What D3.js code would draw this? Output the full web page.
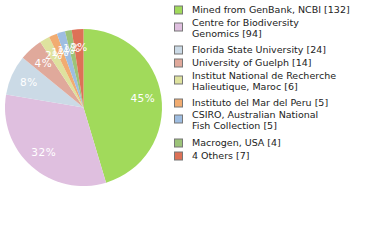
<!DOCTYPE html>
<html>
<head>
<meta charset="utf-8">
<script src="https://cdn.jsdelivr.net/npm/d3@7"></script>
<style>
  body { margin: 0; background: #fff; }
  text { font-family: "DejaVu Sans", sans-serif; }
</style>
</head>
<body>
<div id="chart"></div>
<script>
const labels = [
  ['Mined from GenBank, NCBI [132]'],
  ['Centre for Biodiversity', 'Genomics [94]'],
  ['Florida State University [24]'],
  ['University of Guelph [14]'],
  ['Institut National de Recherche', 'Halieutique, Maroc [6]'],
  ['Instituto del Mar del Peru [5]'],
  ['CSIRO, Australian National', 'Fish Collection [5]'],
  ['Macrogen, USA [4]'],
  ['4 Others [7]'],
];
const counts = [132, 94, 24, 14, 6, 5, 5, 4, 7];
const colors = ['#a1da5b', '#dfbfdf', '#cbdae6', '#e0a99b', '#dee29e', '#f1ac71', '#9ebde1', '#9cc379', '#dd7157'];
const legendY = [10, 27, 50, 63, 80, 103, 119, 143, 156];

const width = 380;
const height = 240;
const cx = 83.5, cy = 107.5, radius = 78.5;

const svg = d3.select('#chart')
  .append('svg')
  .attr('width', width)
  .attr('height', height);

const pie = d3.pie().sort(null).value(d => d);
const arcs = pie(counts);
const total = d3.sum(counts);

const arc = d3.arc().innerRadius(0).outerRadius(radius);
const labelArc = d3.arc().innerRadius(60).outerRadius(60);

const g = svg.append('g').attr('transform', `translate(${cx},${cy})`);

g.selectAll('path')
  .data(arcs)
  .join('path')
  .attr('d', arc)
  .attr('fill', (d, i) => colors[i]);

g.selectAll('text.pct')
  .data(arcs)
  .join('text')
  .attr('class', 'pct')
  .attr('transform', d => `translate(${labelArc.centroid(d)})`)
  .attr('text-anchor', 'middle')
  .attr('dy', '0.35em')
  .attr('fill', '#fff')
  .attr('font-size', 10.5)
  .attr('letter-spacing', 0.5)
  .text(d => `${Math.floor(d.data / total * 100)}%`);

const legend = svg.append('g');

legend.selectAll('rect')
  .data(legendY)
  .join('rect')
  .attr('x', 174.5)
  .attr('y', d => d - 4)
  .attr('width', 8)
  .attr('height', 8)
  .attr('fill', (d, i) => colors[i])
  .attr('stroke', '#777')
  .attr('stroke-width', 1);

legend.selectAll('text')
  .data(labels)
  .join('text')
  .attr('x', 192)
  .attr('y', (d, i) => legendY[i] - (d.length - 1) * 4)
  .attr('font-size', 9.5)
  .attr('fill', '#222')
  .each(function (d) {
    d3.select(this).selectAll('tspan')
      .data(d)
      .join('tspan')
      .attr('x', 192)
      .attr('dy', (t, j) => j === 0 ? '0.35em' : 11)
      .text(t => t);
  });
</script>
</body>
</html>
